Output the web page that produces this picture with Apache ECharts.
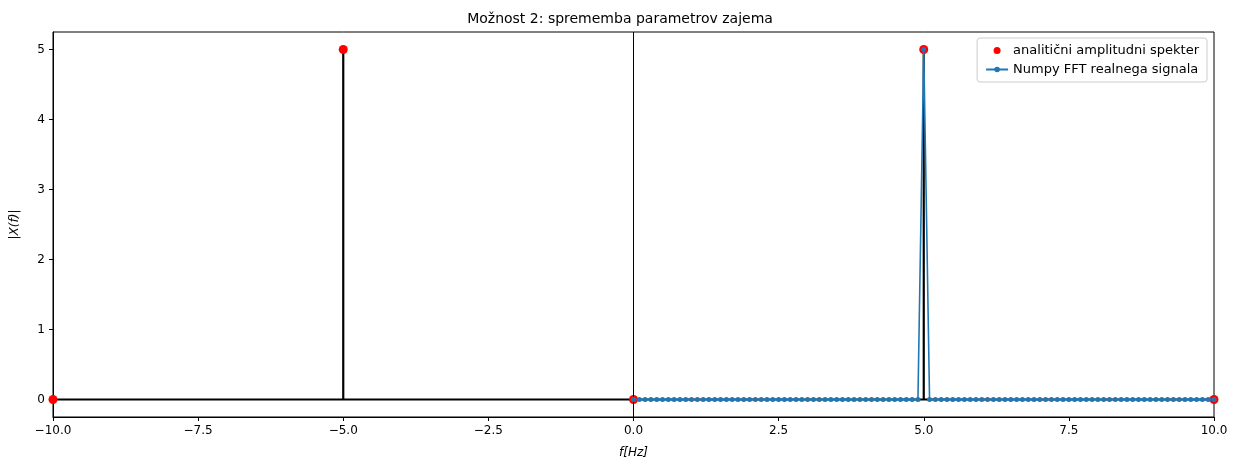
<!DOCTYPE html><html><head><meta charset="utf-8"><script src="https://cdn.jsdelivr.net/npm/echarts@6/dist/echarts.min.js"></script></head><body style="margin:0"><div id="c" style="width:1240px;height:473px"></div><script>
const analyticX=[-10,-5,0,5,10];
const analyticY=[0,5,0,5,0];
const fftStep=0.1, fftCount=101;
const fftPeakIndex=50, fftPeakValue=5;
const fftY=[];for(let i=0;i<fftCount;i++)fftY.push(i===fftPeakIndex?fftPeakValue:0);
const fftX=fftY.map((_,i)=>+(i*fftStep).toFixed(2));
const xTicks=[-10,-7.5,-5,-2.5,0,2.5,5,7.5,10];
const yTicks=[0,1,2,3,4,5];
const stemX=[-5,5], stemY=[5,5];
const blk={type:'line',symbol:'none',lineStyle:{color:'#000',width:2.2},silent:true,z:3};
const series=[
 Object.assign({},blk,{data:[[-10,0],[10,0]],markLine:{silent:true,symbol:'none',label:{show:false},lineStyle:{color:'#000',width:1,type:'solid'},data:[{xAxis:0}]}}),
 ...stemX.map((x,i)=>Object.assign({},blk,{data:[[x,0],[x,stemY[i]]]})),
 {name:'analitični amplitudni spekter',type:'scatter',symbolSize:9,itemStyle:{color:'#ff0000',opacity:1},data:analyticX.map((x,i)=>[x,analyticY[i]]),z:4},
 {name:'Numpy FFT realnega signala',type:'line',symbol:'circle',symbolSize:5,showAllSymbol:true,lineStyle:{color:'#1f77b4',width:1.6},itemStyle:{color:'#1f77b4'},data:fftX.map((x,i)=>[x,fftY[i]]),z:5}
];
const f='DejaVu Sans';
echarts.init(document.getElementById('c')).setOption({animation:false,
 title:{text:'Možnost 2: sprememba parametrov zajema',left:'center',top:7,textStyle:{fontFamily:f,fontSize:14,fontWeight:'normal',color:'#000'}},
 legend:{orient:'vertical',right:33,top:38,padding:[6,8],itemGap:6,itemWidth:22,itemHeight:7,backgroundColor:'rgba(255,255,255,0.8)',borderColor:'#ccc',borderWidth:1,borderRadius:3,textStyle:{fontFamily:f,fontSize:13,color:'#000'},data:[{name:'analitični amplitudni spekter',icon:'circle'},{name:'Numpy FFT realnega signala'}]},
 grid:{left:53,right:26,top:32,bottom:56,show:true,borderColor:'#000',borderWidth:1},
 xAxis:{type:'value',min:-10,max:10,interval:2.5,name:'f[Hz]',nameLocation:'middle',nameGap:30,nameTextStyle:{fontFamily:f,fontSize:12,fontStyle:'italic',color:'#000'},axisLine:{onZero:false,lineStyle:{color:'#000'}},axisTick:{lineStyle:{color:'#000'},length:4},splitLine:{show:false},axisLabel:{fontFamily:f,fontSize:12,color:'#000',formatter:v=>v.toFixed(1).replace('-','−')}},
 yAxis:{type:'value',min:-0.25,max:5.25,name:'|X(f)|',nameLocation:'middle',nameGap:32,nameTextStyle:{fontFamily:f,fontSize:12,fontStyle:'italic',color:'#000'},axisLine:{show:true,onZero:false,lineStyle:{color:'#000'}},axisTick:{show:true,customValues:yTicks,lineStyle:{color:'#000'},length:4},splitLine:{show:false},axisLabel:{customValues:yTicks,fontFamily:f,fontSize:12,color:'#000'}},
 series});
</script></body></html>
